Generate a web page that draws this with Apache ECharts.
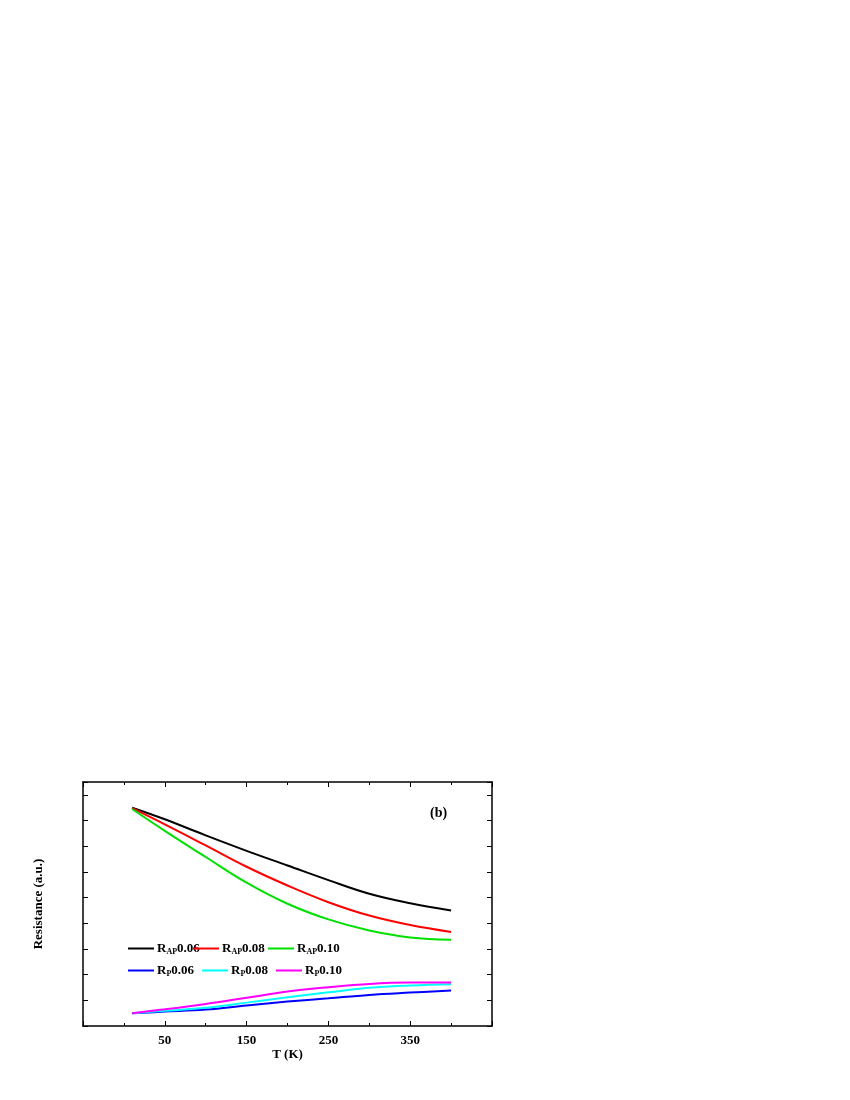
<!DOCTYPE html>
<html><head><meta charset="utf-8">
<script src="https://cdn.jsdelivr.net/npm/echarts@6/dist/echarts.min.js"></script>
<style>html,body{margin:0;padding:0;background:#fff}#c{width:850px;height:1100px}</style>
</head><body><div id="c"></div>
<script>
const T = [10,50,100,150,200,250,300,350,400];
const RAP006 = [1.40,1.355,1.292,1.232,1.175,1.118,1.065,1.028,1.0];
const RAP008 = [1.398,1.335,1.253,1.17,1.097,1.032,0.98,0.943,0.916];
const RAP010 = [1.395,1.31,1.208,1.108,1.026,0.965,0.922,0.895,0.886];
const RP006 = [0.6,0.606,0.614,0.63,0.645,0.658,0.671,0.68,0.688];
const RP008 = [0.6,0.609,0.621,0.641,0.662,0.681,0.699,0.708,0.713];
const RP010 = [0.6,0.615,0.636,0.66,0.684,0.701,0.714,0.719,0.719];
const names = ['RAP0.06','RAP0.08','RAP0.10','RP0.06','RP0.08','RP0.10'];
const colors = ['#000000','#ff0000','#00e000','#0000ff','#00ffff','#ff00ff'];
const values = [RAP006,RAP008,RAP010,RP006,RP008,RP010];
const legendPos = [[123,937],[188,937],[263,937],[123,959],[197,959],[271,959]];
const font = 'Liberation Serif';
const chart = echarts.init(document.getElementById('c'));
const axisCommon = {
  axisLine:{onZero:false,lineStyle:{color:'#000',width:1.5}},
  axisTick:{inside:true,length:5,lineStyle:{color:'#000'}},
  minorTick:{show:true,splitNumber:2,length:3,lineStyle:{color:'#000'}},
  splitLine:{show:false}
};
const lab = {color:'#000',fontFamily:font,fontWeight:'bold',fontSize:13};
chart.setOption({
  animation:false,
  grid:{left:83,top:782,right:358,bottom:74},
  xAxis:[
    Object.assign({type:'value',min:-50,max:450,interval:100,position:'bottom',
      name:'T (K)',nameLocation:'middle',nameGap:22,nameTextStyle:lab,
      axisLabel:Object.assign({margin:8,formatter:v=>(v<0||v>400)?'':v},lab)},axisCommon),
    Object.assign({type:'value',min:-50,max:450,interval:100,position:'top',axisLabel:{show:false}},axisCommon)
  ],
  yAxis:[
    Object.assign({type:'value',min:0.55,max:1.5,position:'left',
      name:'Resistance (a.u.)',nameLocation:'middle',nameGap:38,nameTextStyle:lab,
      axisLabel:Object.assign({formatter:v=>{const r=Math.round(v*10)/10;return Math.abs(v-r)<1e-6&&Math.round(r*10)%2===0?r.toFixed(1):'';}},lab),
      interval:0.05, axisTick:{show:false}, minorTick:{show:false},
      axisLine:{onZero:false,lineStyle:{color:'#000',width:1.5}},splitLine:{show:false}}),
    Object.assign({type:'value',min:0.55,max:1.5,position:'right',axisLabel:{show:false},interval:0.05,
      axisTick:{show:false},minorTick:{show:false},
      axisLine:{onZero:false,lineStyle:{color:'#000',width:1.5}},splitLine:{show:false}})
  ],
  legend: names.map((n,i)=>({
    data:[n], left:legendPos[i][0], top:legendPos[i][1], itemWidth:26, itemHeight:10, itemGap:4,
    icon:'path://M0,4L26,4L26,6L0,6Z',
    formatter:nm=>'{b|R}{s|'+nm.slice(1,nm.indexOf('0'))+'}{b|'+nm.slice(nm.indexOf('0'))+'}',
    textStyle:{padding:[0,0,0,-2],rich:{b:{fontFamily:font,fontWeight:'bold',fontSize:13,color:'#000'},
      s:{fontFamily:font,fontWeight:'bold',fontSize:8,color:'#000',verticalAlign:'bottom',padding:[6,0,0,0]}}}
  })),
  graphic:[{type:'text',left:430,top:806,style:{text:'(b)',font:'bold 14px "Liberation Serif"',fill:'#000'}}],
  series: names.map((n,i)=>({
    name:n,type:'line',smooth:0.4,showSymbol:false,symbol:'none',
    itemStyle:{color:colors[i]},lineStyle:{color:colors[i],width:2},
    data:T.map((t,j)=>[t,values[i][j]])
  })).concat([
    {type:'line',xAxisIndex:0,yAxisIndex:0,data:[],silent:true}
  ])
});
// Custom ticks for y (major 0.2 + minor 0.1) on both sides
chart.setOption({yAxis:[{interval:0.1,axisTick:{show:true,inside:true,length:5,lineStyle:{color:'#000'},interval:0}},
  {interval:0.1,axisTick:{show:true,inside:true,length:5,lineStyle:{color:'#000'}}}]});
</script></body></html>
